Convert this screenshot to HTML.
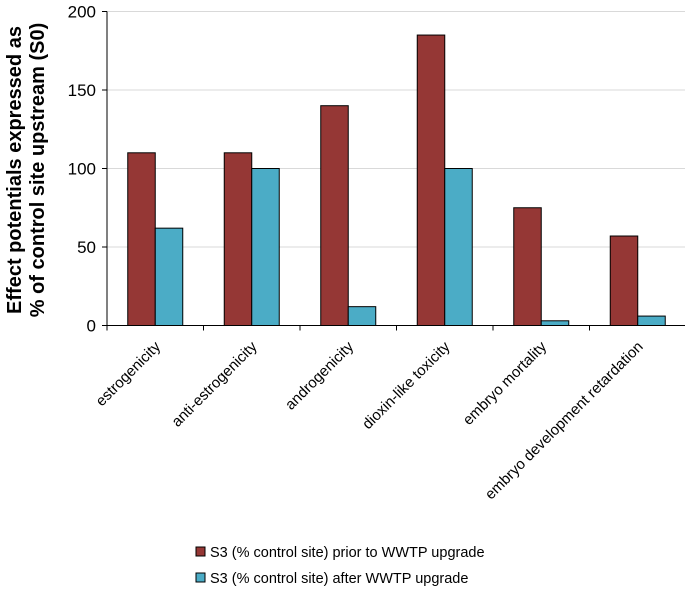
<!DOCTYPE html>
<html><head><meta charset="utf-8"><style>
body{margin:0;background:#fff;}
svg text{font-family:"Liberation Sans",sans-serif;}
</style></head><body>
<svg id="c" width="685" height="590"></svg>
<script>
const categories=["estrogenicity","anti-estrogenicity","androgenicity","dioxin-like toxicity","embryo mortality","embryo development retardation"];
const seriesPrior=[110,110,140,185,75,57];
const seriesAfter=[62,100,12,100,3,6];
const yTicks=[0,50,100,150,200];
const legendLabels=["S3 (% control site) prior to WWTP upgrade","S3 (% control site) after WWTP upgrade"];
const colors=["#953735","#4bacc6"];
const svg=document.getElementById('c');const NS="http://www.w3.org/2000/svg";
function mk(t,a,p){const e=document.createElementNS(NS,t);for(const k in a)e.setAttribute(k,a[k]);(p||svg).appendChild(e);return e;}
const x0=107,x1=686,y0=325.5,yTop=11.5;
const gw=(x1-x0)/categories.length;
const ys=v=>y0-(v/200)*(y0-yTop);
const xg=i=>x0+gw*i;
yTicks.forEach(t=>{
  if(t>0){const g=mk('line',{x1:x0,x2:x1,y1:ys(t),y2:ys(t),stroke:'#d9d9d9','stroke-width':1});
  
  }
  const tk=mk('line',{x1:x0-5,x2:x0,y1:ys(t),y2:ys(t),stroke:'#000'});
  
  
  const l=mk('text',{x:x0-11,y:ys(t)+6,'text-anchor':'end','font-size':17,fill:'#000'});l.textContent=t;
  
  
});
const bw=27.5;
categories.forEach((c,i)=>{
  const cx=xg(i)+gw/2;
  [seriesPrior,seriesAfter].forEach((s,j)=>{
    const r=mk('rect',{x:cx-bw+j*bw,y:ys(s[i]),width:bw,height:y0-ys(s[i]),fill:colors[j],stroke:'#000','stroke-width':1});
    
    
  });
  const tk=mk('line',{x1:xg(i+1),x2:xg(i+1),y1:y0,y2:y0+5,stroke:'#000'});
  
  
  const l=mk('text',{x:cx+6,y:y0+22,'text-anchor':'end','font-size':15,transform:`rotate(-45 ${cx+6} ${y0+22})`});l.textContent=c;
  
  
});
const tk0=mk('line',{x1:x0,x2:x0,y1:y0,y2:y0+5,stroke:'#000'});


const ya=mk('line',{x1:x0,x2:x0,y1:yTop,y2:y0,stroke:'#000'});


const xa=mk('line',{x1:x0,x2:x1,y1:y0,y2:y0,stroke:'#000'});


const t1=mk('text',{x:0,y:0,'text-anchor':'middle','font-size':20,'font-weight':'bold',transform:'translate(21,170) rotate(-90)'});t1.textContent='Effect potentials expressed as';


const t2=mk('text',{x:0,y:0,'text-anchor':'middle','font-size':20,'font-weight':'bold',transform:'translate(44,170) rotate(-90)'});t2.textContent='% of control site upstream (S0)';


legendLabels.forEach((lb,j)=>{
  const y=552+j*26;
  const r=mk('rect',{x:196,y:y-5,width:9,height:9,fill:colors[j],stroke:'#000'});
  
  
  const t=mk('text',{x:210,y:y+5,'font-size':14.5});t.textContent=lb;
  
  
});
</script>
</body></html>
